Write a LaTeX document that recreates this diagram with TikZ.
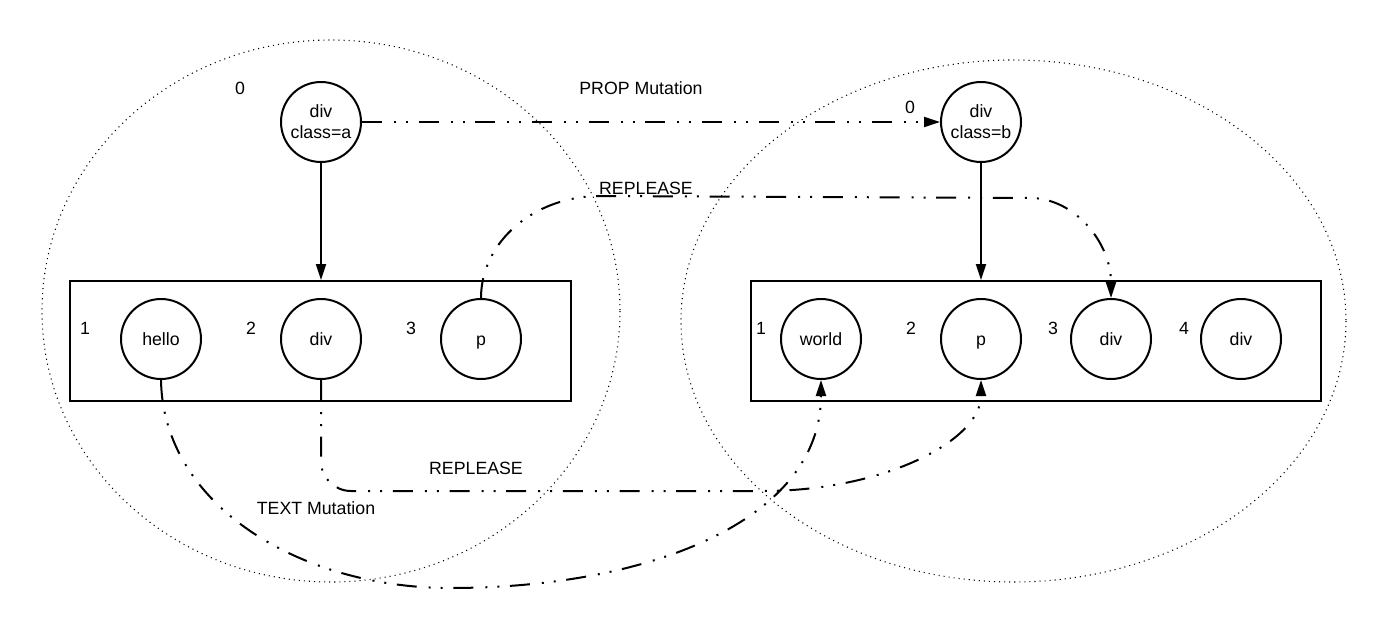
\documentclass[tikz,border=0pt]{standalone}
\usepackage{fontspec}
\setmainfont{Liberation Sans}
\usetikzlibrary{arrows.meta}
\usetikzlibrary{positioning}

\begin{document}
\begin{tikzpicture}[x=0.75pt,y=-0.75pt]
\tikzstyle{main}=[circle, minimum size = 60pt, inner sep=1pt, line width=1.5pt, draw=black, align=center, font=\fontsize{13.3}{15.8}\selectfont]
\tikzstyle{leaf}=[main, text height=9.7pt, text depth=0pt]
\tikzstyle{connect}=[-{Triangle[length=12pt,width=7.5pt]}, line width=1.5pt]
\tikzstyle{mutation}=[connect, dash pattern=on 15pt off 9pt on 1.5pt off 7.5pt on 1.5pt off 8pt]
\tikzstyle{box}=[rectangle, draw=black, line width=1.5pt, minimum height=90pt]
\tikzstyle{group}=[draw=black, line width=0.8pt, dash pattern=on 0.8pt off 3pt]
\tikzstyle{lbl}=[font=\fontsize{13.3}{15.8}\selectfont, inner sep=0pt]
  \useasboundingbox (0,0) rectangle (1387,628);
  % the two trees
  \draw[group] (331,311) ellipse [x radius=289, y radius=271];
  \draw[group] (1013.5,321) ellipse [x radius=332.5, y radius=261];
  \node[main] (old) at (321,122) {div\\class=a};
  \node[main] (new) at (981,122) {div\\class=b};
  \node[box, minimum width=375.75pt] (oldbox) at (320.5,341) {};
  \node[box, minimum width=427.5pt] (newbox) at (1036,341) {};
  \node[leaf] (hello) at (161,339) {hello};
  \node[leaf] (div) [right=58.5pt of hello] {div};
  \node[leaf] (p) [right=58.5pt of div] {p};
  \node[leaf] (world) at (821,339) {world};
  \node[leaf] (np) [right=58.5pt of world] {p};
  \node[leaf] (ndiv) [right=36pt of np] {div};
  \node[leaf] (ndivb) [right=36pt of ndiv] {div};
  % indices
  \node[lbl] (i0) at (240,88) {0};
  \node[lbl] (j0) at (910,107) {0};
  \node[lbl] (i1) at (85,328) {1};
  \node[lbl] (i2) at (251,328) {2};
  \node[lbl] (i3) at (411,328) {3};
  \node[lbl] (j1) at (761,328) {1};
  \node[lbl] (j2) at (911,328) {2};
  \node[lbl] (j3) at (1053,328) {3};
  \node[lbl] (j4) at (1184,328) {4};
  \path (old) edge [connect] (old |- oldbox.north)
        (new) edge [connect] (new |- newbox.north)
        (old) edge [mutation] (new);
  % patches
  \draw[mutation] (p.north) .. controls (481,242) and (534,196) .. (600,196)
        -- (1030,198) .. controls (1075,198) and (1111,243) .. (ndiv.north);
  \draw[mutation] (div.south) -- (321,462) .. controls (321,478) and (335,491) .. (351,491)
        -- (763,491) .. controls (883,491) and (981,441) .. (np.south);
  \draw[mutation] (hello.south) .. controls (163,505) and (300,588) .. (450,588)
        .. controls (650,588) and (821,520) .. (world.south);
  \node[lbl] (prop) at (641,88) {PROP Mutation};
  \node[lbl] (rep) at (646,188) {REPLEASE};
  \node[lbl] (repb) at (476,468) {REPLEASE};
  \node[lbl] (text) at (316,508) {TEXT Mutation};
\end{tikzpicture}
\end{document}
